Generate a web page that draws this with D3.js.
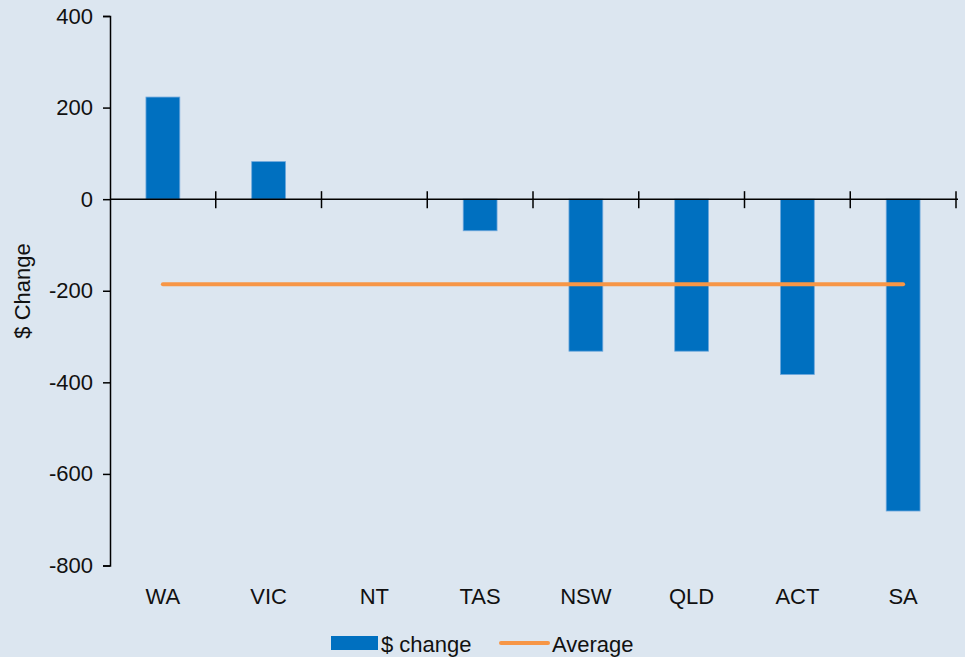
<!DOCTYPE html>
<html>
<head>
<meta charset="utf-8">
<script src="https://cdn.jsdelivr.net/npm/d3@7"></script>
<style>
  body { margin: 0; background: #dce6f0; }
  svg { display: block; font-family: "Liberation Sans", Arial, sans-serif; }
</style>
</head>
<body>
<div id="chart"></div>
<script>
const states = ['WA', 'VIC', 'NT', 'TAS', 'NSW', 'QLD', 'ACT', 'SA'];
const change = [223, 82, 0, -69, -332, -332, -383, -681];
const average = -186;
const yTicks = [400, 200, 0, -200, -400, -600, -800];

document.addEventListener('DOMContentLoaded', ()=>{
    const width = 965;
    const height = 657;
    const svg = d3.select('#chart')
        .append('svg')
        .attr('width', width)
        .attr('height', height);

    svg.append('rect')
        .attr('width', width)
        .attr('height', height)
        .attr('fill', '#dce6f0');

    const x = d3.scaleBand()
        .domain(states)
        .range([110, 956])
        .paddingInner(0.68)
        .paddingOuter(0.34);

    const y = d3.scaleLinear()
        .domain([-800, 400])
        .range([565.5, 16]);

    // y axis
    const yAxis = svg.append('g')
        .attr('transform', 'translate(110,0)')
        .call(d3.axisLeft(y).tickValues(yTicks).tickSize(7).tickPadding(10).tickFormat(d3.format('d')));
    yAxis.select('.domain').attr('stroke', '#000').attr('stroke-width', 1.5);
    yAxis.selectAll('.tick line').attr('stroke', '#000').attr('stroke-width', 1.5);
    yAxis.selectAll('.tick text')
        .attr('font-size', 22)
        .attr('fill', '#111')
        .text(d => d < 0 ? '-' + Math.abs(d) : d);

    // bars
    svg.selectAll('.bar')
        .data(states)
        .enter()
        .append('rect')
        .attr('class', 'bar')
        .attr('x', d => x(d))
        .attr('width', x.bandwidth())
        .attr('y', (d, i) => y(Math.max(0, change[i])))
        .attr('height', (d, i) => Math.abs(y(change[i]) - y(0)))
        .attr('fill', '#0070c0')
        .attr('stroke', '#6fa8dc')
        .attr('stroke-width', 0.8);

    // x axis line at zero with crossing ticks
    const xBounds = states.map(d => x(d) - x.step() * x.paddingOuter() + x.step());
    svg.append('line')
        .attr('x1', 110).attr('x2', 958)
        .attr('y1', y(0)).attr('y2', y(0))
        .attr('stroke', '#000').attr('stroke-width', 1.5);
    svg.selectAll('.xtick')
        .data(xBounds)
        .enter()
        .append('line')
        .attr('x1', d => d).attr('x2', d => d)
        .attr('y1', y(0) - 8).attr('y2', y(0) + 9)
        .attr('stroke', '#000').attr('stroke-width', 1.5);

    // category labels
    svg.selectAll('.xlabel')
        .data(states)
        .enter()
        .append('text')
        .attr('x', d => x(d) + x.bandwidth() / 2)
        .attr('y', 604)
        .attr('text-anchor', 'middle')
        .attr('font-size', 22)
        .attr('fill', '#111')
        .text(d => d);

    // average line
    const line = d3.line()
        .x(d => x(d) + x.bandwidth() / 2)
        .y(() => y(average));
    svg.append('path')
        .attr('d', line([states[0], states[states.length - 1]]))
        .attr('stroke', '#f79646')
        .attr('stroke-width', 4)
        .attr('stroke-linecap', 'round')
        .attr('fill', 'none');

    // y label
    svg.append('text')
        .attr('transform', 'translate(30,291) rotate(-90)')
        .attr('text-anchor', 'middle')
        .attr('font-size', 22)
        .attr('fill', '#111')
        .text('$ Change');

    // legend
    const legend = svg.append('g');
    legend.append('rect')
        .attr('x', 331).attr('y', 636)
        .attr('width', 47).attr('height', 14)
        .attr('fill', '#0070c0');
    legend.append('text')
        .attr('x', 381).attr('y', 652)
        .attr('font-size', 22)
        .attr('fill', '#111')
        .text('$ change');
    legend.append('line')
        .attr('x1', 501).attr('x2', 548)
        .attr('y1', 643).attr('y2', 643)
        .attr('stroke', '#f79646')
        .attr('stroke-width', 4)
        .attr('stroke-linecap', 'round');
    legend.append('text')
        .attr('x', 552).attr('y', 652)
        .attr('font-size', 22)
        .attr('fill', '#111')
        .text('Average');
});
</script>
</body>
</html>
